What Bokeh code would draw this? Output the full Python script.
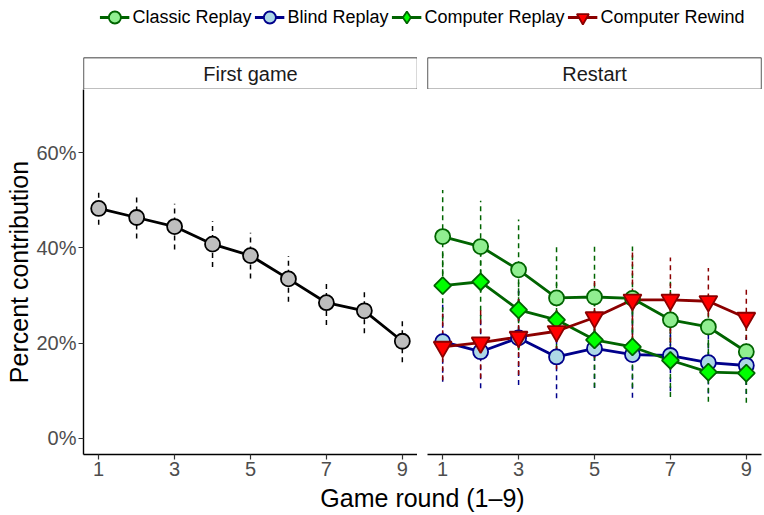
from bokeh.plotting import figure
from bokeh.models import Range1d, FixedTicker, BoxAnnotation, Label, Legend, LegendItem
from bokeh.layouts import column, row
from bokeh.embed import file_html
from bokeh.resources import INLINE

FONT = "Liberation Sans"

# ---------------- data ----------------
rounds = [1, 2, 3, 4, 5, 6, 7, 8, 9]
x_ticks = [1, 3, 5, 7, 9]
y_ticks = [0, 20, 40, 60]
y_tick_labels = ["0%", "20%", "40%", "60%"]
panel_titles = ["First game", "Restart"]

first_game = [48.3, 46.4, 44.5, 40.8, 38.4, 33.5, 28.5, 26.8, 20.4]
first_game_err = [3.4, 4.4, 4.8, 4.8, 4.8, 4.8, 4.7, 4.7, 4.4]

series_names = ["Classic Replay", "Blind Replay", "Computer Replay", "Computer Rewind"]
classic_replay = [42.4, 40.3, 35.4, 29.5, 29.7, 29.4, 24.9, 23.4, 18.2]
classic_replay_err = [9.8, 9.6, 10.6, 11.2, 11.3, 10.9, 8.0, 7.5, 7.0]
blind_replay = [20.3, 18.2, 21.1, 17.1, 18.9, 17.6, 17.4, 15.9, 15.3]
blind_replay_err = [8.4, 7.7, 9.9, 8.7, 8.3, 9.1, 7.5, 6.5, 6.0]
computer_replay = [32.1, 32.9, 27.0, 24.9, 20.7, 19.2, 16.4, 13.9, 13.7]
computer_replay_err = [7.5, 8.0, 8.5, 8.0, 10.0, 8.5, 7.7, 6.2, 6.2]
computer_rewind = [19.2, 20.1, 21.3, 22.5, 25.4, 29.1, 29.1, 28.8, 25.3]
computer_rewind_err = [7.0, 7.5, 8.0, 8.0, 8.5, 10.0, 8.9, 7.0, 6.5]

series_values = [classic_replay, blind_replay, computer_replay, computer_rewind]
series_errors = [classic_replay_err, blind_replay_err, computer_replay_err, computer_rewind_err]

# ---------------- styles ----------------
styles = [
    dict(line="#006400", fill="#90EE90", marker="circle", size=15, angle=0.0, leg_marker="circle"),
    dict(line="#00008B", fill="#ADD8E6", marker="circle", size=15, angle=0.0, leg_marker="circle"),
    dict(line="#006400", fill="#00FF00", marker="square", size=12, angle=0.7853981634, leg_marker="diamond"),
    dict(line="#8B0000", fill="#FF0000", marker="inverted_triangle", size=18, angle=0.0, leg_marker="inverted_triangle"),
]

Y_LO, Y_HI = -3.4, 73.3
X_LO, X_HI = 0.6, 9.4
FRAME_W, FRAME_H = 334, 365
LEFT_B, GAP, RIGHT_B = 83, 10, 3
LINE_W = 2.8
ERR_W = 1.5
ERR_DASH = "5 4"
NAN = float("nan")


def blank(width, height, left, right, top=0, bottom=0):
    p = figure(width=width, height=height, x_range=Range1d(0, 1), y_range=Range1d(0, 1),
               x_axis_location=None, y_axis_location=None,
               output_backend="svg", toolbar_location=None,
               min_border_left=left, min_border_right=right,
               min_border_top=top, min_border_bottom=bottom)
    p.xgrid.visible = False
    p.ygrid.visible = False
    p.outline_line_color = None
    return p


def make_strip(title, left):
    w = LEFT_B + FRAME_W if left else GAP + FRAME_W + RIGHT_B
    p = blank(w, 33, LEFT_B if left else GAP, 0 if left else RIGHT_B, top=1)
    p.add_layout(BoxAnnotation(left=0, right=1, bottom=0, top=1,
                               fill_color="white", fill_alpha=1.0,
                               line_color="black", line_width=1.3, line_alpha=1.0))
    p.add_layout(Label(x=0.5, y=0.5, text=title, text_align="center", text_baseline="middle",
                       text_font=FONT, text_font_size="20px", text_color="#1A1A1A"))
    return p


def make_panel(left):
    p = figure(frame_width=FRAME_W, frame_height=FRAME_H,
               x_range=Range1d(X_LO, X_HI), y_range=Range1d(Y_LO, Y_HI),
               output_backend="svg", toolbar_location=None,
               y_axis_location="left" if left else None,
               min_border_left=LEFT_B if left else GAP, min_border_right=0 if left else RIGHT_B,
               min_border_top=0, min_border_bottom=28)
    p.xgrid.visible = False
    p.ygrid.visible = False
    p.outline_line_color = None

    axes = [p.xaxis[0]] + ([p.yaxis[0]] if left else [])
    for ax in axes:
        ax.axis_line_color = "black"
        ax.axis_line_width = 1.4
        ax.major_tick_line_color = "#333333"
        ax.major_tick_line_width = 1.2
        ax.major_tick_out = 5
        ax.major_tick_in = 0
        ax.minor_tick_line_color = None
        ax.major_label_text_font = FONT
        ax.major_label_text_font_size = "20px"
        ax.major_label_text_color = "#4D4D4D"
    p.xaxis.ticker = FixedTicker(ticks=x_ticks)
    p.xaxis.major_label_standoff = 2
    if left:
        p.yaxis.ticker = FixedTicker(ticks=y_ticks)
        p.yaxis.major_label_overrides = {t: s for t, s in zip(y_ticks, y_tick_labels)}
        p.yaxis.major_label_standoff = 2
        p.yaxis.axis_label = "Percent contribution"
        p.yaxis.axis_label_text_font = FONT
        p.yaxis.axis_label_text_font_size = "25px"
        p.yaxis.axis_label_text_font_style = "normal"
        p.yaxis.axis_label_text_color = "black"
        p.yaxis.axis_label_standoff = 0
    return p


# ---------------- left panel ----------------
pA = make_panel(True)
lo = [v - e for v, e in zip(first_game, first_game_err)]
hi = [v + e for v, e in zip(first_game, first_game_err)]
pA.segment(x0=rounds, y0=lo, x1=rounds, y1=hi, line_color="black",
           line_width=ERR_W, line_dash=ERR_DASH)
pA.line(rounds, first_game, line_color="black", line_width=LINE_W)
pA.scatter(rounds, first_game, marker="circle", size=15, fill_color="#BEBEBE",
           line_color="black", line_width=1.8)

# ---------------- right panel ----------------
pB = make_panel(False)
for vals, errs, st in zip(series_values, series_errors, styles):
    lo = [v - e for v, e in zip(vals, errs)]
    hi = [v + e for v, e in zip(vals, errs)]
    pB.segment(x0=rounds, y0=lo, x1=rounds, y1=hi, line_color=st["line"],
               line_width=ERR_W, line_dash=ERR_DASH)
for vals, st in zip(series_values, styles):
    pB.line(rounds, vals, line_color=st["line"], line_width=LINE_W)
for vals, st in zip(series_values, styles):
    pB.scatter(rounds, vals, marker=st["marker"], size=st["size"], angle=st["angle"],
               fill_color=st["fill"], line_color=st["line"], line_width=1.8)

# ---------------- strips ----------------
sA = make_strip(panel_titles[0], True)
sB = make_strip(panel_titles[1], False)

# ---------------- legend ----------------
total_w = LEFT_B + FRAME_W + GAP + FRAME_W + RIGHT_B
pL = blank(total_w, 56, LEFT_B, RIGHT_B)
items = []
for name, st in zip(series_names, styles):
    # key-only renderers (a single missing value, so nothing is drawn in the frame)
    r_line = pL.line(x=[NAN], y=[NAN], line_color=st["line"], line_width=LINE_W)
    r_pt = pL.scatter(x=[NAN], y=[NAN], marker=st["leg_marker"], fill_color=st["fill"],
                      line_color=st["line"], line_width=1.8)
    items.append(LegendItem(label=name, renderers=[r_line, r_pt]))
legend = Legend(items=items, orientation="horizontal", location="top_center",
                glyph_width=30, glyph_height=34, label_standoff=3, spacing=3,
                padding=0, margin=0, border_line_color=None, background_fill_alpha=0,
                label_text_font=FONT, label_text_font_size="18px", label_text_color="black")
pL.add_layout(legend, "center")

# ---------------- x-axis title ----------------
pX = blank(total_w, 30, LEFT_B, RIGHT_B)
pX.add_layout(Label(x=0.5, y=0.5, text="Game round (1\u20139)", text_align="center",
                    text_baseline="middle", text_font=FONT, text_font_size="25px",
                    text_color="black"))

layout = column(pL, row(sA, sB), row(pA, pB), pX)

with open("out.html", "w") as f:
    f.write(file_html(layout, INLINE))
